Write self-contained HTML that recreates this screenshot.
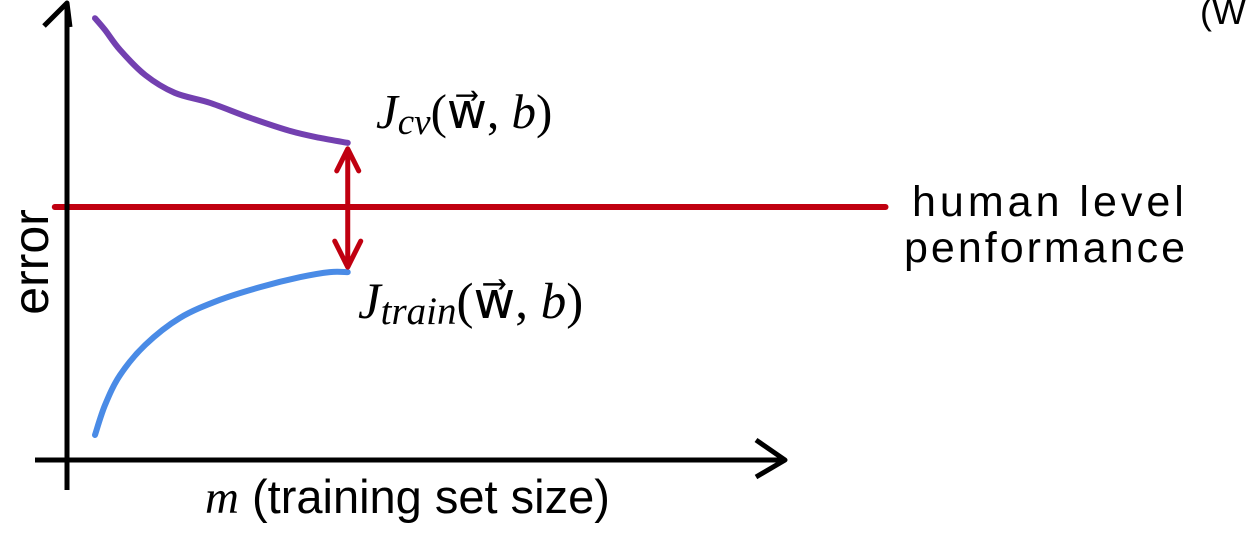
<!DOCTYPE html>
<html><head><meta charset="utf-8"><style>
html,body{margin:0;padding:0;background:#fff;width:1258px;height:552px;overflow:hidden}
svg{display:block}
</style></head><body>
<svg id="chart" width="1258" height="552" viewBox="0 0 1258 552" xmlns="http://www.w3.org/2000/svg">
<g id="marks"></g>
<line x1="67" y1="490" x2="67" y2="6" stroke="#000" stroke-width="5"/>
<polyline points="44,26 67,3 70,27" fill="none" stroke="#000" stroke-width="5" stroke-linejoin="round"/>
<line x1="35" y1="460" x2="785" y2="460" stroke="#000" stroke-width="5"/>
<polyline points="756,440 785,460 756,477" fill="none" stroke="#000" stroke-width="5" stroke-linejoin="round"/>
<text transform="translate(48,262) rotate(-90)" text-anchor="middle" font-family="Liberation Sans, sans-serif" font-size="50">error</text>
<text x="205" y="513" font-family="Liberation Sans, sans-serif" font-size="47"><tspan font-family="Liberation Serif, serif" font-style="italic">m</tspan> (training set size)</text>
<text x="376" y="128" font-family="Liberation Serif, serif" font-size="49"><tspan font-style="italic">J</tspan><tspan font-style="italic" font-size="37" dy="6">cv</tspan><tspan dy="-6">(w⃗, </tspan><tspan font-style="italic">b</tspan>)</text>
<text x="358" y="318" font-family="Liberation Serif, serif" font-size="51"><tspan font-style="italic">J</tspan><tspan font-style="italic" font-size="39" dy="6">train</tspan><tspan dy="-6">(w⃗, </tspan><tspan font-style="italic">b</tspan>)</text>
<text x="912" y="216" font-family="Liberation Sans, sans-serif" font-size="43" letter-spacing="4">human level</text>
<text x="904" y="262" font-family="Liberation Sans, sans-serif" font-size="43" letter-spacing="3">penformance</text>
<text x="1200" y="24" font-family="Liberation Sans, sans-serif" font-size="36">(W</text>
</svg>
<script>
const cvM=[0.39,0.53,0.74,1.09,1.50,1.99,2.55,3.11,3.52,3.91];
const cvErr=[9.71,9.45,9.01,8.46,8.07,7.85,7.52,7.23,7.08,6.97];
const trainM=[0.39,0.53,0.74,1.09,1.57,2.13,2.69,3.25,3.66,3.91];
const trainErr=[0.55,1.21,1.87,2.53,3.12,3.52,3.80,4.02,4.13,4.13];
const humanErr=[5.56];
const humanRange=[-0.17,11.4];
const gapM=[3.91];
function xs(m){return 67+m*71.8;}
function ys(e){return 460-e*45.5;}
const NS='http://www.w3.org/2000/svg';
const g=document.getElementById('marks');
function curve(M,E,color,name){
  const P=M.map((m,i)=>[xs(m),ys(E[i])]);
  let d='M'+P[0][0]+','+P[0][1];
  for(let i=0;i<P.length-1;i++){
    const p0=P[Math.max(i-1,0)],p1=P[i],p2=P[i+1],p3=P[Math.min(i+2,P.length-1)];
    const c1=[p1[0]+(p2[0]-p0[0])/6,p1[1]+(p2[1]-p0[1])/6];
    const c2=[p2[0]-(p3[0]-p1[0])/6,p2[1]-(p3[1]-p1[1])/6];
    d+=' C'+c1[0]+','+c1[1]+' '+c2[0]+','+c2[1]+' '+p2[0]+','+p2[1];
  }
  const p=document.createElementNS(NS,'path');
  p.setAttribute('d',d);p.setAttribute('fill','none');p.setAttribute('stroke',color);
  p.setAttribute('stroke-width','6');p.setAttribute('stroke-linecap','round');p.setAttribute('stroke-linejoin','round');
  
  
  g.appendChild(p);
}
curve(cvM,cvErr,'#7340b0','jcv-curve');
curve(trainM,trainErr,'#4a8be6','jtrain-curve');
const hl=document.createElementNS(NS,'line');
hl.setAttribute('x1',xs(humanRange[0]));hl.setAttribute('x2',xs(humanRange[1]));
hl.setAttribute('y1',ys(humanErr[0]));hl.setAttribute('y2',ys(humanErr[0]));
hl.setAttribute('stroke','#c00010');hl.setAttribute('stroke-width','6');hl.setAttribute('stroke-linecap','round');


g.appendChild(hl);
const gx=xs(gapM[0]);
const gTop=ys(cvErr[cvErr.length-1])+6, gBot=ys(trainErr[trainErr.length-1])-5;
const ga=document.createElementNS(NS,'path');
ga.setAttribute('d','M'+gx+','+gTop+' L'+gx+','+gBot+' M'+(gx-11)+','+(gTop+22)+' L'+gx+','+gTop+' L'+(gx+11)+','+(gTop+22)+' M'+(gx-13)+','+(gBot-26)+' L'+gx+','+gBot+' L'+(gx+13)+','+(gBot-26));
ga.setAttribute('fill','none');ga.setAttribute('stroke','#c00010');ga.setAttribute('stroke-width','5');ga.setAttribute('stroke-linecap','round');ga.setAttribute('stroke-linejoin','round');


g.appendChild(ga);
</script>
</body></html>
